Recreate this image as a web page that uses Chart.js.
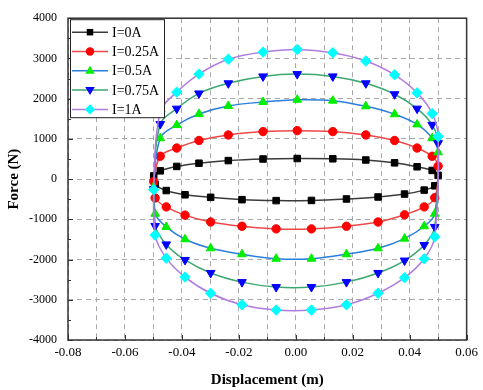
<!DOCTYPE html>
<html>
<head>
<meta charset="utf-8">
<script src="https://cdn.jsdelivr.net/npm/chart.js@4"></script>
<style>
  html, body { margin: 0; padding: 0; background: #fff; }
  #wrap { width: 483px; height: 390px; }
</style>
</head>
<body>
<div id="wrap"><canvas id="chart"></canvas></div>
<script>
// Displacement of each marker, going along the top branch (left to right)
// and back along the bottom branch (right to left)
const displacement = [-0.0499, -0.0476, -0.0418, -0.0340, -0.0237, -0.0115, 0.0005, 0.0130, 0.0246, 0.0347, 0.0426, 0.0479, 0.0500,
                      0.0488, 0.0451, 0.0382, 0.0289, 0.0178, 0.0055, -0.0069, -0.0189, -0.0299, -0.0389, -0.0455, -0.0494];

const force0A   = [78, 205, 315, 395, 460, 500, 512, 505, 475, 404, 306, 216, 93,
                   -167, -274, -372, -445, -494, -530, -535, -511, -453, -390, -285, -127];
const force025A = [-60, 568, 772, 960, 1098, 1181, 1205, 1181, 1098, 960, 772, 568, 323,
                   -461, -691, -887, -1066, -1172, -1238, -1238, -1172, -1066, -895, -691, -470];
const force05A  = [-191, 1017, 1343, 1620, 1818, 1916, 1973, 1950, 1810, 1613, 1360, 1017, 666,
                   -862, -1172, -1480, -1720, -1868, -1980, -1980, -1868, -1720, -1495, -1189, -862];
const force075A = [-250, 1368, 1752, 2130, 2382, 2553, 2610, 2553, 2382, 2110, 1752, 1350, 894,
                   -1189, -1637, -2025, -2333, -2561, -2684, -2684, -2561, -2333, -2010, -1623, -1164];
const force1A   = [-265, 1670, 2162, 2610, 2978, 3157, 3223, 3142, 2936, 2593, 2145, 1630, 1058,
                   -1434, -1981, -2451, -2838, -3125, -3255, -3255, -3125, -2838, -2435, -1966, -1392];

const seriesLabels = ['I=0A', 'I=0.25A', 'I=0.5A', 'I=0.75A', 'I=1A'];
const xTicks = { min: -0.08, max: 0.06, step: 0.01 };
const yTicks = { min: -4000, max: 4000, step: 1000 };

const FONT = "'Liberation Serif', 'Times New Roman', serif";

const styles = [
  { line: '#3a3a3a', fill: '#000000', point: 'rect', radius: 4.6, rotation: 0 },
  { line: '#f04848', fill: '#ff0000', point: 'circle', radius: 4.2, rotation: 0 },
  { line: '#2b7fdc', fill: '#00ee00', point: 'triangle', radius: 5, rotation: 0 },
  { line: '#3aa870', fill: '#0000ff', point: 'triangle', radius: 5, rotation: 180 },
  { line: '#b07ce0', fill: '#00ffff', point: 'rectRot', radius: 5.2, rotation: 0 }
];

// close each loop: last point in front, first point at the end (both hidden)
const loop = (forces) => {
  const pts = displacement.map((x, i) => ({ x: x, y: forces[i] }));
  return [pts[pts.length - 1], ...pts, pts[0]];
};

const allForces = [force0A, force025A, force05A, force075A, force1A];

const datasets = allForces.map((f, i) => {
  const s = styles[i];
  const n = f.length;
  return {
    label: seriesLabels[i],
    data: loop(f),
    showLine: true,
    borderColor: s.line,
    borderWidth: 1.5,
    tension: 0.35,
    pointStyle: s.point,
    pointRotation: s.rotation,
    pointBackgroundColor: s.fill,
    pointBorderColor: s.fill,
    pointBorderWidth: 1,
    pointRadius: (ctx) => (ctx.dataIndex === 0 || ctx.dataIndex === n + 1) ? 0 : s.radius,
    pointHoverRadius: (ctx) => (ctx.dataIndex === 0 || ctx.dataIndex === n + 1) ? 0 : s.radius,
    order: allForces.length - i
  };
});

// marker drawing for the legend
const drawMarker = (ctx, s, x, y) => {
  const r = s.radius;
  ctx.save();
  ctx.fillStyle = s.fill;
  ctx.beginPath();
  if (s.point === 'rect') {
    const h = r * Math.SQRT1_2;
    ctx.rect(x - h, y - h, 2 * h, 2 * h);
  } else if (s.point === 'circle') {
    ctx.arc(x, y, r, 0, Math.PI * 2);
  } else if (s.point === 'triangle') {
    const d = s.rotation === 180 ? -1 : 1;
    ctx.moveTo(x, y - d * r);
    ctx.lineTo(x + r * 0.95, y + d * r * 0.6);
    ctx.lineTo(x - r * 0.95, y + d * r * 0.6);
    ctx.closePath();
  } else {
    ctx.moveTo(x, y - r);
    ctx.lineTo(x + r, y);
    ctx.lineTo(x, y + r);
    ctx.lineTo(x - r, y);
    ctx.closePath();
  }
  ctx.fill();
  ctx.restore();
};

const framePlugin = {
  id: 'frame',
  afterDraw(chart) {
    const { ctx, chartArea: a, scales } = chart;
    ctx.save();
    // inside tick marks
    ctx.strokeStyle = '#333';
    ctx.lineWidth = 1;
    ctx.setLineDash([]);
    for (let k = 0; k <= 14; k++) {
      const v = xTicks.min + k * xTicks.step;
      const px = Math.round(scales.x.getPixelForValue(v)) + 0.5;
      const len = k % 2 === 0 ? 5 : 3;
      ctx.beginPath();
      ctx.moveTo(px, a.bottom);
      ctx.lineTo(px, a.bottom - len);
      ctx.stroke();
    }
    for (let k = 0; k <= 16; k++) {
      const v = yTicks.min + k * 500;
      const py = Math.round(scales.y.getPixelForValue(v)) + 0.5;
      const len = k % 2 === 0 ? 5 : 3;
      ctx.beginPath();
      ctx.moveTo(a.left, py);
      ctx.lineTo(a.left + len, py);
      ctx.stroke();
    }
    // frame
    ctx.strokeStyle = '#333';
    ctx.lineWidth = 1.5;
    ctx.strokeRect(a.left, a.top, a.right - a.left, a.bottom - a.top);

    // legend box
    const bx = a.left + 2, by = a.top + 1, bw = 94, bh = 98;
    ctx.fillStyle = '#fff';
    ctx.fillRect(bx, by, bw, bh);
    ctx.lineWidth = 1;
    ctx.strokeStyle = '#222';
    ctx.strokeRect(bx + 0.5, by + 0.5, bw, bh);
    ctx.font = '14px ' + FONT;
    ctx.textBaseline = 'middle';
    ctx.textAlign = 'left';
    seriesLabels.forEach((lab, i) => {
      const s = styles[i];
      const y = by + 13 + i * 19.3;
      ctx.strokeStyle = s.line;
      ctx.lineWidth = 1.5;
      ctx.beginPath();
      ctx.moveTo(bx + 2, y);
      ctx.lineTo(bx + 38, y);
      ctx.stroke();
      drawMarker(ctx, s, bx + 20, y);
      ctx.fillStyle = '#000';
      ctx.fillText(lab, bx + 42, y + 1);
    });
    ctx.restore();
  }
};

new Chart(document.getElementById('chart'), {
  type: 'scatter',
  data: { datasets: datasets },
  options: {
    responsive: true,
    maintainAspectRatio: false,
    animation: false,
    events: [],
    layout: { padding: { top: 13, right: 11, left: 0, bottom: 0 } },
    plugins: {
      legend: { display: false },
      tooltip: { enabled: false }
    },
    scales: {
      x: {
        type: 'linear',
        min: xTicks.min,
        max: xTicks.max,
        afterFit: (s) => { s.height = 50; },
        grid: { color: '#a8a8a8', lineWidth: 1, drawTicks: false },
        border: { display: false, dash: [5, 4] },
        ticks: {
          stepSize: xTicks.step,
          autoSkip: false,
          maxRotation: 0,
          padding: 5,
          color: '#000',
          font: { family: FONT, size: 13 },
          callback: (v) => (Math.round(v * 100) % 2 === 0 ? Number(v).toFixed(2) : '')
        },
        title: {
          display: true,
          text: 'Displacement (m)',
          color: '#000',
          font: { family: FONT, size: 15, weight: 'bold' },
          padding: { top: 0, bottom: 1 }
        }
      },
      y: {
        type: 'linear',
        min: yTicks.min,
        max: yTicks.max,
        afterFit: (s) => { s.width = 68; },
        grid: { color: '#a8a8a8', lineWidth: 1, drawTicks: false },
        border: { display: false, dash: [5, 4] },
        ticks: {
          stepSize: yTicks.step,
          padding: 11,
          color: '#000',
          font: { family: FONT, size: 12 },
          callback: (v) => String(Math.round(v))
        },
        title: {
          display: true,
          text: 'Force (N)',
          color: '#000',
          font: { family: FONT, size: 15, weight: 'bold' },
          padding: { top: 5, bottom: 0 }
        }
      }
    }
  },
  plugins: [framePlugin]
});
</script>
</body>
</html>
